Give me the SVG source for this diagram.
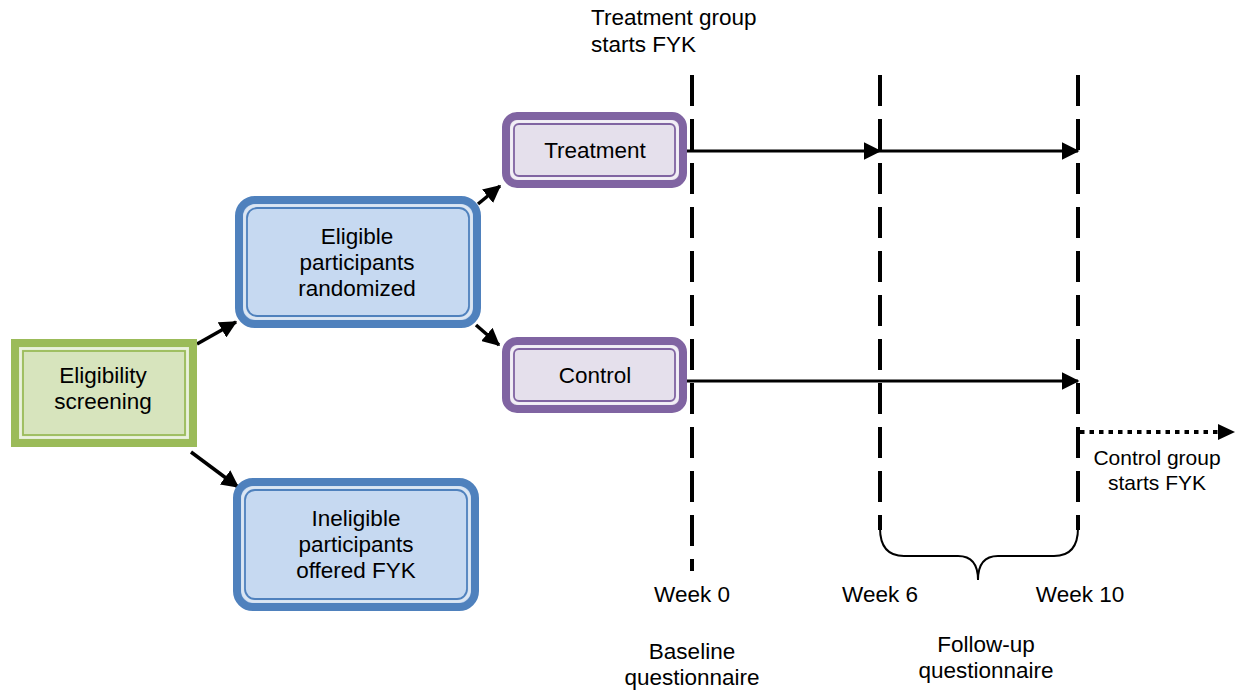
<svg xmlns="http://www.w3.org/2000/svg" width="1237" height="691" viewBox="0 0 1237 691">
<defs>
<marker id="ah" markerWidth="6" markerHeight="6" refX="5.5" refY="3" orient="auto" markerUnits="strokeWidth"><path d="M0,0 L6,3 L0,6 Z" fill="#000"/></marker>
<marker id="ahs" markerWidth="5" markerHeight="5" refX="4.6" refY="2.5" orient="auto" markerUnits="strokeWidth"><path d="M0,0 L5,2.5 L0,5 Z" fill="#000"/></marker>
</defs>
<style>
text{font-family:"Liberation Sans",Arial,sans-serif;font-size:22.5px;fill:#000}
.c{text-anchor:middle}
.sm{font-size:21px}
.gO{fill:#D7E4BD;stroke:#9BBB59;stroke-width:8}
.gI{fill:none;stroke:#9BBB59;stroke-width:1.8}
.gW{fill:none;stroke:#EAF1DD;stroke-width:2.5}
.bO{fill:#C6D9F1;stroke:#4F81BD;stroke-width:8}
.bI{fill:none;stroke:#4F81BD;stroke-width:1.8}
.bW{fill:none;stroke:#DCE6F2;stroke-width:2.5}
.pO{fill:#E5E0EC;stroke:#8064A2;stroke-width:8}
.pI{fill:none;stroke:#8064A2;stroke-width:1.8}
.pW{fill:none;stroke:#F2EFF6;stroke-width:2.5}
.dash{stroke:#000;stroke-width:4;stroke-dasharray:31 13;fill:none}
.arr{stroke:#000;stroke-width:3;fill:none;marker-end:url(#ah)}
.darr{stroke:#000;stroke-width:3.5;fill:none;marker-end:url(#ahs)}
</style>
<g id="connectors">
<line class="darr" x1="197" y1="344" x2="236" y2="322"/>
<line class="darr" x1="191" y1="452" x2="238" y2="487"/>
<line class="darr" x1="478" y1="204" x2="500" y2="186"/>
<line class="darr" x1="476" y1="325" x2="499" y2="345"/>
<path class="dash" d="M692,75 V571"/>
<path class="dash" d="M880,75 V530"/>
<path class="dash" d="M1078,75 V530"/>
<path d="M880,528 Q880,556 904,556 H958 Q978,556 978,580 Q978,556 998,556 H1054 Q1078,556 1078,528" fill="none" stroke="#000" stroke-width="2"/>
<line class="arr" x1="687" y1="151" x2="880" y2="151"/>
<line class="arr" x1="880" y1="151" x2="1078" y2="151"/>
<line class="arr" x1="687" y1="381" x2="1078" y2="381"/>
<line x1="1080" y1="432" x2="1218" y2="432" stroke="#000" stroke-width="4" stroke-dasharray="4.5 5"/>
<path d="M1218,424 L1235,432 L1218,440 Z" fill="#000"/>
</g>
<g id="eligibility">
<rect class="gO" x="15" y="343" width="178" height="100"/>
<rect class="gW" x="20.5" y="348.5" width="167" height="89"/>
<rect class="gI" x="23" y="351" width="162" height="84"/>
<text class="c" x="103" y="383">Eligibility</text>
<text class="c" x="103" y="409">screening</text>
</g>
<g id="randomized">
<rect class="bO" x="239" y="200" width="238" height="124" rx="16"/>
<rect class="bW" x="244.5" y="205.5" width="227" height="113" rx="12"/>
<rect class="bI" x="247" y="208" width="222" height="108" rx="10"/>
<text class="c" x="357" y="244">Eligible</text>
<text class="c" x="357" y="270">participants</text>
<text class="c" x="357" y="296">randomized</text>
</g>
<g id="ineligible">
<rect class="bO" x="237" y="482" width="238" height="125" rx="16"/>
<rect class="bW" x="242.5" y="487.5" width="227" height="114" rx="12"/>
<rect class="bI" x="245" y="490" width="222" height="109" rx="10"/>
<text class="c" x="356" y="526">Ineligible</text>
<text class="c" x="356" y="552">participants</text>
<text class="c" x="356" y="578">offered FYK</text>
</g>
<g id="treatment">
<rect class="pO" x="506" y="116" width="177" height="68" rx="11"/>
<rect class="pW" x="511.5" y="121.5" width="166" height="57" rx="7"/>
<rect class="pI" x="514" y="124" width="161" height="52" rx="5"/>
<text class="c" x="595" y="158">Treatment</text>
</g>
<g id="control">
<rect class="pO" x="506" y="341" width="177" height="68" rx="11"/>
<rect class="pW" x="511.5" y="346.5" width="166" height="57" rx="7"/>
<rect class="pI" x="514" y="349" width="161" height="52" rx="5"/>
<text class="c" x="595" y="383">Control</text>
</g>
<g id="labels">
<text x="591" y="25">Treatment group</text>
<text x="591" y="52">starts FYK</text>
<text class="c" x="692" y="602">Week 0</text>
<text class="c" x="880" y="602">Week 6</text>
<text class="c" x="1080" y="602">Week 10</text>
<text class="c" x="692" y="659">Baseline</text>
<text class="c" x="692" y="685">questionnaire</text>
<text class="c" x="986" y="652">Follow-up</text>
<text class="c" x="986" y="678">questionnaire</text>
<text class="c sm" x="1157" y="465">Control group</text>
<text class="c sm" x="1157" y="490">starts FYK</text>
</g>
</svg>
